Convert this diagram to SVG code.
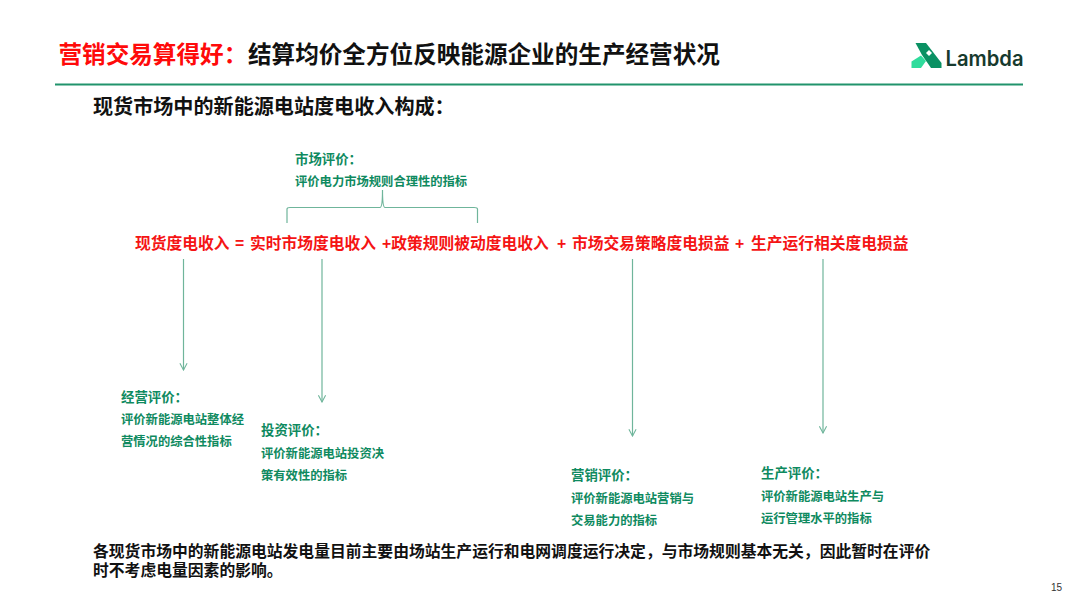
<svg xmlns="http://www.w3.org/2000/svg" width="1080" height="608" viewBox="0 0 1080 608">
<style>
text{font-family:"Liberation Sans","Noto Sans CJK SC",sans-serif;font-weight:700}
.t{font-size:23.6px;fill:#111}
.r{font-size:23.6px;fill:#ff0a0a}
.h{font-size:20.1px;fill:#111}
.f{font-size:15.75px;fill:#f51414}
.g1{font-size:13.400px;fill:#0f8a5f}
.g2{font-size:12.3px;fill:#0f8a5f}
.b{font-size:15.8px;fill:#111}
.c{fill:none;stroke:#6fb59b;stroke-width:1.200}
</style>
<defs><marker id="a" viewBox="0 0 10 10" refX="9" refY="5" markerWidth="9" markerHeight="9" markerUnits="userSpaceOnUse" orient="auto"><path d="M1.500 1L9 5L1.500 9" fill="none" stroke="#6fb59b" stroke-width="1.200"/></marker></defs>
<rect width="1080" height="608" fill="#fff"/>
<g id="title"><text class="r" x="58.500" y="63">营销交易算得好：</text><text class="t" x="248" y="63">结算均价全方位反映能源企业的生产经营状况</text></g>
<g id="logo"><path d="M915.500 43H926L941.500 63V68H931L922 55Z" fill="#0a9163"/><path d="M911.500 68V61.500L921 55.500L926 61L921 68Z" fill="#2fdc9c"/><path d="M926 53L929 50L932 53L929 56Z" fill="#fff"/><text x="945.500" y="66" style="font-family:'Inter',sans-serif;font-size:21px;font-weight:600;fill:#173a2e" textLength="78" lengthAdjust="spacingAndGlyphs">Lambda</text></g>
<line x1="55" y1="84.500" x2="1023" y2="84.500" stroke="#21936c" stroke-width="1.800"/>
<text class="h" x="93" y="114">现货市场中的新能源电站度电收入构成：</text>
<g id="formula"><text class="f" x="135" y="249">现货度电收入</text><text class="f" x="235" y="249">=</text><text class="f" x="250" y="249">实时市场度电收入</text><text class="f" x="382" y="249">+政策规则被动度电收入</text><text class="f" x="557" y="249">+</text><text class="f" x="572" y="249">市场交易策略度电损益</text><text class="f" x="735" y="249">+</text><text class="f" x="751" y="249">生产运行相关度电损益</text></g>
<g id="connectors"><path class="c" d="M287 223V209Q287 207.500 290 207.500H380Q382.500 207.500 382.500 190Q382.500 207.500 385 207.500H474Q477.500 207.500 477.500 209V223"/>
<line class="c" x1="183.500" y1="259" x2="183.500" y2="370" marker-end="url(#a)"/>
<line class="c" x1="322" y1="259" x2="322" y2="402" marker-end="url(#a)"/>
<line class="c" x1="632.500" y1="259" x2="632.500" y2="436" marker-end="url(#a)"/>
<line class="c" x1="823" y1="259" x2="823" y2="433" marker-end="url(#a)"/></g>
<g id="market"><text class="g1" x="295" y="164">市场评价：</text><text class="g2" x="295" y="186">评价电力市场规则合理性的指标</text></g>
<g id="operate"><text class="g1" x="121" y="402">经营评价：</text><text class="g2" x="121" y="424">评价新能源电站整体经</text><text class="g2" x="121" y="446">营情况的综合性指标</text></g>
<g id="invest"><text class="g1" x="261" y="435">投资评价：</text><text class="g2" x="261" y="458">评价新能源电站投资决</text><text class="g2" x="261" y="480">策有效性的指标</text></g>
<g id="marketing"><text class="g1" x="571" y="480">营销评价：</text><text class="g2" x="571" y="503">评价新能源电站营销与</text><text class="g2" x="571" y="525">交易能力的指标</text></g>
<g id="production"><text class="g1" x="761" y="478">生产评价：</text><text class="g2" x="761" y="501">评价新能源电站生产与</text><text class="g2" x="761" y="523">运行管理水平的指标</text></g>
<g id="note"><text class="b" x="93" y="557">各现货市场中的新能源电站发电量目前主要由场站生产运行和电网调度运行决定，与市场规则基本无关，因此暂时在评价</text><text class="b" x="93" y="576">时不考虑电量因素的影响。</text></g>
<text x="1051" y="591" style="font-size:10px;font-weight:400;fill:#333">15</text>
</svg>
